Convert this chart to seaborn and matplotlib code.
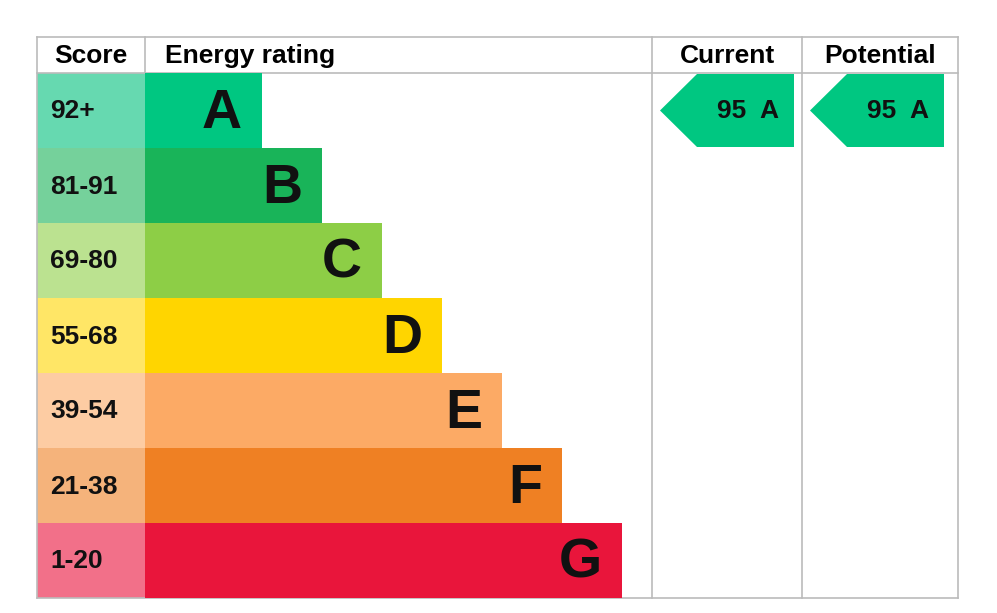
import matplotlib.pyplot as plt
import seaborn as sns
import pandas as pd
from matplotlib.patches import Polygon, Rectangle

bands = ["A", "B", "C", "D", "E", "F", "G"]
score_ranges = ["92+", "81-91", "69-80", "55-68", "39-54", "21-38", "1-20"]
bar_lengths = [117, 177, 237, 297, 357, 417, 477]
band_colors = ["#00c781", "#19b459", "#8dce46", "#ffd500", "#fcaa65", "#ef8023", "#e9153b"]
score_colors = ["#66d9b0", "#75d19b", "#bbe290", "#ffe666", "#fdcca3", "#f5b37b", "#f27089"]
current = (95, "A")
potential = (95, "A")

W, H = 997, 613
fig = plt.figure(figsize=(W / 100, H / 100), dpi=100)
ax = fig.add_axes([0, 0, 1, 1])
ax.set_xlim(0, W)
ax.set_ylim(H, 0)
ax.axis("off")

font = "Liberation Sans"
top, head, row = 37, 73, 75
bottom = head + row * len(bands)
grey = "#bbbbbb"

# bars through seaborn
bx0, bx1 = 145, 652
bax = fig.add_axes([bx0 / W, 1 - bottom / H, (bx1 - bx0) / W, (bottom - head) / H])
df = pd.DataFrame({"band": bands, "len": bar_lengths})
sns.barplot(data=df, x="len", y="band", hue="band", palette=band_colors,
            width=1.0, orient="h", legend=False, ax=bax, saturation=1)
bax.set_xlim(0, bx1 - bx0)
bax.set_ylim(len(bands) - 0.5, -0.5)
bax.axis("off")
for i, (b, l) in enumerate(zip(bands, bar_lengths)):
    bax.text(l - 20, i + 0.04, b, ha="right", va="center", fontsize=40,
             fontweight="bold", family=font, color="#111111")

# score cells
for i, (s, c) in enumerate(zip(score_ranges, score_colors)):
    y = head + i * row
    ax.add_patch(Rectangle((37, y), 108, row, color=c, lw=0))
    ax.text(50, y + row / 2 + 1, s, ha="left", va="center", fontsize=19,
            fontweight="bold", family=font, color="#111111")

# grid lines
for x in [37, 652, 802, 958]:
    ax.plot([x, x], [top, bottom], color=grey, lw=1.2)
ax.plot([145, 145], [top, head], color=grey, lw=1.2)
ax.plot([37, 958], [top, top], color=grey, lw=1.2)
ax.plot([37, 958], [head, head], color=grey, lw=1.2)
ax.plot([37, 958], [bottom, bottom], color=grey, lw=1.2)

# headers
hy = (top + head) / 2 + 1
ax.text(91, hy, "Score", ha="center", va="center", fontsize=19, fontweight="bold", family=font)
ax.text(165, hy, "Energy rating", ha="left", va="center", fontsize=19, fontweight="bold", family=font)
ax.text(727, hy, "Current", ha="center", va="center", fontsize=19, fontweight="bold", family=font)
ax.text(880, hy, "Potential", ha="center", va="center", fontsize=19, fontweight="bold", family=font)

# arrows
def arrow(x0, x1, val):
    score, band = val
    i = bands.index(band)
    y0 = head + i * row + 1
    y1 = y0 + row - 2
    ym = (y0 + y1) / 2
    ax.add_patch(Polygon([(x0, ym), (x0 + 37, y0), (x1, y0), (x1, y1), (x0 + 37, y1)],
                         closed=True, color=band_colors[i], lw=0))
    ax.text((x0 + 37 + x1) / 2 + 2, ym + 1, f"{score}  {band}", ha="center", va="center",
            fontsize=19, fontweight="bold", family=font, color="#111111")

arrow(660, 794, current)
arrow(810, 944, potential)

fig.savefig("out.png", dpi=100)
